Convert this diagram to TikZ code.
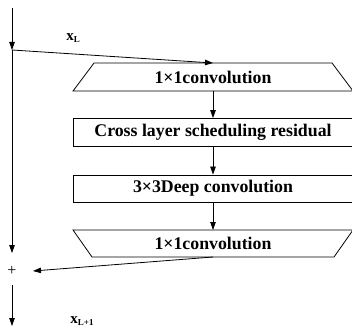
\documentclass[tikz,border=0pt]{standalone}
\usepackage{fontspec}
\setmainfont{Liberation Serif}
\usetikzlibrary{arrows.meta}
\begin{document}
\begin{tikzpicture}[x=1pt,y=-1pt,
  line width=0.8pt,
  arr/.style={-{Triangle[length=8pt,width=5.5pt]}},
  lbl/.style={font=\bfseries\fontsize{17.8}{20}\selectfont, inner sep=0pt},
  boxstyle/.style={draw, minimum width=280pt, minimum height=28pt, inner sep=0pt, font=\bfseries\fontsize{17.8}{20}\selectfont},
  sym/.style={font=\bfseries\fontsize{15}{17}\selectfont, inner sep=0pt}]
\useasboundingbox (0,0) rectangle (352,328);
\begin{scope}
\clip (0,0) rectangle (352,328);
% first 1x1 convolution (narrow top)
\draw (94,63) -- (332,63) -- (353,91) -- (73,91) -- cycle;
\node[lbl] (t1) at (213,77) {1\texttimes1convolution};
\coordinate (t1top) at (213,63);
\coordinate (t1bot) at (213,91);
% middle blocks
\node[boxstyle] (b2) at (213,132.5) {Cross layer scheduling residual};
\node[boxstyle, minimum height=27pt] (b3) at (213,188.5) {3\texttimes3Deep convolution};
% last 1x1 convolution (narrow bottom)
\draw (73,230) -- (353,230) -- (334,257) -- (92,257) -- cycle;
\node[lbl] (t2) at (213,243.5) {1\texttimes1convolution};
\coordinate (t2top) at (213,230);
\coordinate (t2bot) at (213,257);
\end{scope}
% main path
\coordinate (in) at (12,8);
\coordinate (split) at (12,50);
\coordinate (skipend) at (12,253);
\node[font=\fontsize{16}{18}\selectfont, inner sep=0pt] (plus) at (12,271) {+};
\coordinate (plusout) at (12,285);
\coordinate (out) at (12,326);
\draw[arr] (in) -- (split);
\draw[arr] (split) -- (skipend);
\draw[arr] (split) -- (t1top);
\draw[arr] (t1bot) -- (b2.north);
\draw[arr] (b2.south) -- (b3.north);
\draw[arr] (b3.south) -- (t2top);
\coordinate (plusin) at (33,271);
\draw[arr] (t2bot) -- (plusin);
\draw[arr] (plusout) -- (out);
% labels
\node[sym] (xl) at (73,38) {x{\fontsize{9}{10}\selectfont\raisebox{-2pt}{L}}};
\node[sym] (xl1) at (82,321) {x{\fontsize{9}{10}\selectfont\raisebox{-2pt}{L+1}}};
\end{tikzpicture}
\end{document}
